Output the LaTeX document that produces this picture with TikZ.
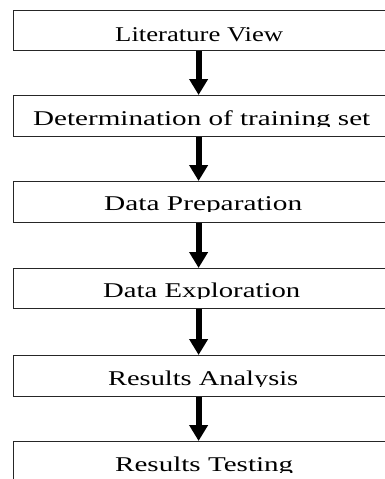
\documentclass[tikz,border=0pt]{standalone}
\usepackage{fontspec}
\setmainfont{Liberation Serif}
\usetikzlibrary{arrows.meta}
\newcommand{\stretchlbl}[2]{\resizebox{#1}{\height}{#2}}
\begin{document}
\begin{tikzpicture}[x=1pt,y=-1pt,
  box/.style={draw=black!85, line width=1.2pt, minimum width=376pt, minimum height=41pt, inner sep=0pt, anchor=north west},
  lbl/.style={anchor=base west, inner sep=0pt, font=\fontsize{21}{24}\selectfont},
  arr/.style={line width=6pt, -{Triangle[width=18pt,length=16pt]}}]
\useasboundingbox (0,0) rectangle (385,479);
\clip (0,0) rectangle (385,479);
\fill[white] (0,0) rectangle (385,479);
\node[box, minimum height=40pt] (b1) at (13,10) {};
\node[box] (b2) at (13,95) {};
\node[box] (b3) at (13,181) {};
\node[box, minimum height=40pt] (b4) at (13,268) {};
\node[box] (b5) at (13,355) {};
\node[box] (b6) at (13,441) {};
\begin{scope}\clip (13,10) rectangle (389,42.5);
\node[lbl] (t1) at (115,41.5) {\stretchlbl{168pt}{Literature View}};\end{scope}
\begin{scope}\clip (13,95) rectangle (389,126.5);
\node[lbl] (t2) at (33,125.5) {\stretchlbl{337pt}{Determination of training set}};\end{scope}
\begin{scope}\clip (13,181) rectangle (389,211.5);
\node[lbl] (t3) at (104,210.5) {\stretchlbl{198pt}{Data Preparation}};\end{scope}
\begin{scope}\clip (13,268) rectangle (389,298.5);
\node[lbl] (t4) at (103,297.5) {\stretchlbl{197pt}{Data Exploration}};\end{scope}
\begin{scope}\clip (13,355) rectangle (389,386.5);
\node[lbl] (t5) at (108,385.5) {\stretchlbl{190pt}{Results Analysis}};\end{scope}
\begin{scope}\clip (13,441) rectangle (389,472.5);
\node[lbl] (t6) at (115,471.5) {\stretchlbl{178pt}{Results Testing}};\end{scope}
\draw[arr] ([xshift=-3pt]b1.south) -- ([xshift=-3pt]b2.north);
\draw[arr] ([xshift=-3pt]b2.south) -- ([xshift=-3pt]b3.north);
\draw[arr] ([xshift=-3pt]b3.south) -- ([xshift=-3pt]b4.north);
\draw[arr] ([xshift=-3pt]b4.south) -- ([xshift=-3pt]b5.north);
\draw[arr] ([xshift=-3pt]b5.south) -- ([xshift=-3pt]b6.north);
\end{tikzpicture}
\end{document}
